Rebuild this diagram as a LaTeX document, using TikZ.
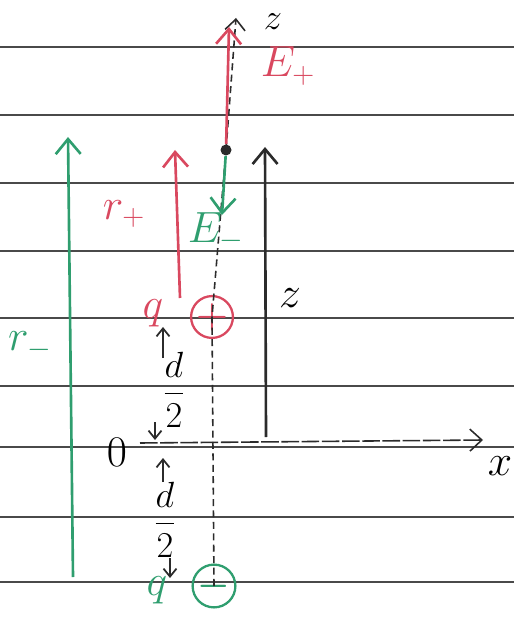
\documentclass[tikz,border=0pt]{standalone}
\usepackage{amsmath}
\usepackage{tikz}
\usetikzlibrary{arrows.meta}
\definecolor{PenRed}{HTML}{D9485F}
\definecolor{PenGreen}{HTML}{2F9E6F}
\definecolor{PenBlack}{HTML}{2B2B2B}
\definecolor{RuleGray}{HTML}{4A4A4A}

\begin{document}
\begin{tikzpicture}[
    x=0.02cm, y=-0.02cm,
    rule/.style={RuleGray, line width=0.6pt},
    axisline/.style={
      PenBlack,
      line width=0.9pt,
      dash pattern=on 4pt off 2.5pt
    },
    vec/.style={
      -{Straight Barb[length=3mm,width=5mm]},
      line width=1.5pt
    },
    dimarrow/.style={
      -{Straight Barb[length=1.6mm,width=2.6mm]},
      PenBlack,
      line width=1pt
    },
    lbl/.style={
      font=\fontsize{26}{28}\selectfont,
      inner sep=1pt
    },
    charge/.style={
      circle,
      draw,
      line width=1.3pt,
      minimum size=7.4mm,
      inner sep=0pt,
      font=\huge\boldmath
    }
  ]
  \useasboundingbox (0,0) rectangle (514,617);

  % liniertes Papier
  \foreach \y in {47,115,183,251,318,386,447,517,582}
    \draw[rule] (0,\y) -- (514,\y);

  % Punkte auf der z-Achse
  \coordinate (ptop) at (236,18);
  \node[charge, draw=PenRed, text=PenRed] (qplus) at (212,317) {$+$};
  \node[charge, draw=PenGreen, text=PenGreen] (qminus) at (214,586) {$-$};
  \node[circle, fill=PenBlack, inner sep=0pt, minimum size=2.2mm] (P) at (226,150) {};

  % Achsen
  \draw[axisline] (qminus.center) -- (qplus.center) -- (P.center);
  \draw[axisline, -{Straight Barb[length=2.2mm,width=4mm]}] (P.center) -- (ptop);
  \coordinate (xstart) at (140,443);
  \coordinate (xend) at (483,440);
  \draw[PenBlack, line width=0.9pt, dash pattern=on 10pt off 1.5pt,
    -{Straight Barb[length=2.4mm,width=4.4mm]}] (xstart) -- (xend);

  % Feldvektoren im Punkt P
  \coordinate (Eptip) at (229,27);
  \coordinate (Emtip) at (222,215);
  \draw[vec, PenRed] (P) -- (Eptip);
  \draw[vec, PenGreen] (P) -- (Emtip);

  % Abstaende r_+, r_- und z
  \coordinate (zbase) at (266,437);
  \coordinate (ztip) at (265,147);
  \coordinate (rpbase) at (180,298);
  \coordinate (rptip) at (175,150);
  \coordinate (rmbase) at (73,577);
  \coordinate (rmtip) at (68,137);
  \draw[vec, PenBlack] (zbase) -- (ztip);
  \draw[vec, PenRed] (rpbase) -- (rptip);
  \draw[vec, PenGreen] (rmbase) -- (rmtip);

  % Beschriftungen
  \node[lbl, font=\fontsize{20}{22}\selectfont] (zlabel) at (273,22) {$z$};
  \node[lbl, text=PenRed] (Ep) at (288,66) {$E_+$};
  \node[lbl, text=PenGreen] (Em) at (216,232) {$E_-$};
  \node[lbl, text=PenRed] (rp) at (124,214) {$r_+$};
  \node[lbl, text=PenGreen] (rm) at (30,346) {$r_-$};
  \node[lbl] (zdist) at (290,298) {$z$};
  \node[lbl, text=PenRed] (qp) at (153,313) {$q$};
  \node[lbl, text=PenGreen] (qm) at (157,590) {$q$};
  \node[lbl] (O) at (117,452) {$0$};
  \node[lbl] (xlabel) at (500,466) {$x$};

  % d/2 oberhalb und unterhalb von 0
  \node[lbl, font=\fontsize{20}{22}\selectfont] (dup) at (174,390) {$\dfrac{d}{2}$};
  \node[lbl, font=\fontsize{20}{22}\selectfont] (ddown) at (165,520) {$\dfrac{d}{2}$};
  \coordinate (dupA) at (163,327);
  \coordinate (dupB) at (155,440);
  \coordinate (ddownA) at (163,458);
  \coordinate (ddownB) at (170,578);
  \draw[dimarrow] (163,358) -- (dupA);
  \draw[dimarrow] (155,422) -- (dupB);
  \draw[dimarrow] (163,482) -- (ddownA);
  \draw[dimarrow] (170,558) -- (ddownB);

\end{tikzpicture}
\end{document}
